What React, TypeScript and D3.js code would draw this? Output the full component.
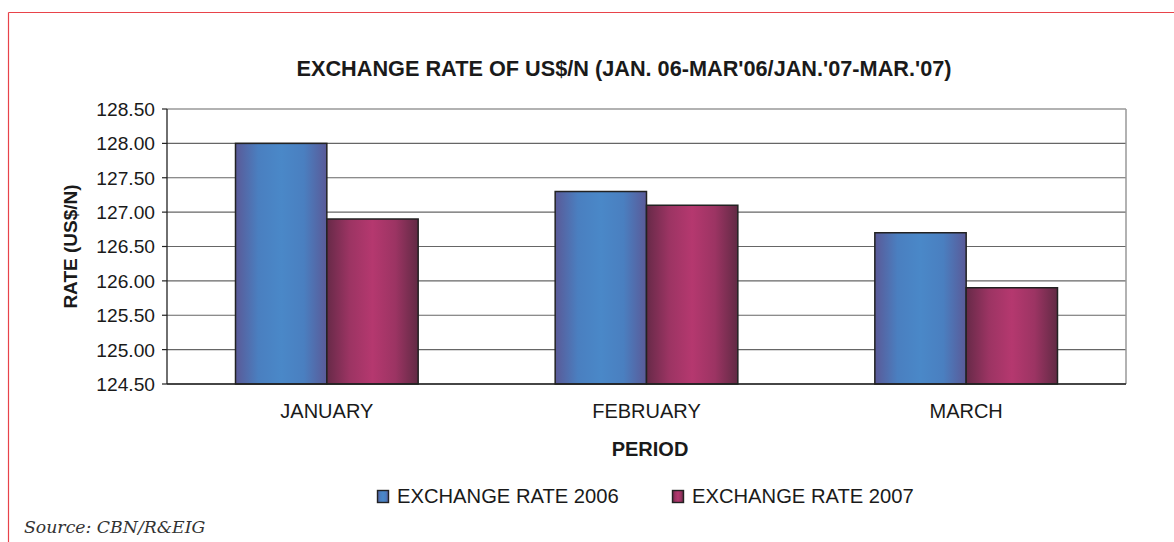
import React from 'react';
import * as d3 from 'd3';

const periods = ['JANUARY', 'FEBRUARY', 'MARCH'];
const series = ['EXCHANGE RATE 2006', 'EXCHANGE RATE 2007'];
const rate2006 = [128.0, 127.3, 126.7];
const rate2007 = [126.9, 127.1, 125.9];
const yTicks = [124.5, 125.0, 125.5, 126.0, 126.5, 127.0, 127.5, 128.0, 128.5];

const W = 1174;
const H = 542;
const margin = { top: 109, right: 48, bottom: 158, left: 167 };
const font = '"Liberation Sans", Arial, sans-serif';

const App = () => {
  const innerW = W - margin.left - margin.right;
  const innerH = H - margin.top - margin.bottom;

  const x0 = d3.scaleBand().domain(periods).range([0, innerW]).paddingInner(1.5 / 3.5).paddingOuter(0.75 / 3.5);
  const x1 = d3.scaleBand().domain(series).range([0, x0.bandwidth()]);
  const y = d3.scaleLinear().domain([124.5, 128.5]).range([innerH, 0]);

  const values = [rate2006, rate2007];
  const gradIds = ['g2006', 'g2007'];
  const legendX = [377, 672];

  return (
    <svg width={W} height={H} style={{ position: 'absolute', left: 0, top: 0, background: '#fff' }}>
      <defs>
        <linearGradient id="g2006" x1="0" x2="1" y1="0" y2="0">
          <stop offset="0" stopColor="#5a5a98" />
          <stop offset="0.25" stopColor="#4a7fc0" />
          <stop offset="0.5" stopColor="#4a88c8" />
          <stop offset="0.75" stopColor="#4a7fc0" />
          <stop offset="1" stopColor="#5a5a98" />
        </linearGradient>
        <linearGradient id="g2007" x1="0" x2="1" y1="0" y2="0">
          <stop offset="0" stopColor="#672a48" />
          <stop offset="0.25" stopColor="#9c3463" />
          <stop offset="0.5" stopColor="#b5386f" />
          <stop offset="0.75" stopColor="#9c3463" />
          <stop offset="1" stopColor="#612a44" />
        </linearGradient>
      </defs>

      {/* page frame */}
      <line x1={8.5} x2={8.5} y1={12.5} y2={H} stroke="#e8434a" strokeWidth={1.2} />
      <line x1={8.5} x2={W} y1={12.5} y2={12.5} stroke="#e8434a" strokeWidth={1.2} />

      <text x={624} y={76} textAnchor="middle" fontFamily={font} fontWeight="bold" fontSize={21.7} fill="#1a1a1a">
        EXCHANGE RATE OF US$/N (JAN. 06-MAR'06/JAN.'07-MAR.'07)
      </text>

      <g transform={`translate(${margin.left},${margin.top})`}>
        {/* grid */}
        {yTicks.map(t => (
          <line key={t} x1={0} x2={innerW} y1={y(t)} y2={y(t)} stroke="#666" strokeWidth={1.2} />
        ))}
        <line x1={innerW} x2={innerW} y1={0} y2={innerH} stroke="#999" strokeWidth={1.5} />

        {/* bars */}
        {periods.map((p, i) => (
          <g key={p} transform={`translate(${x0(p)},0)`}>
            {series.map((s, j) => (
              <rect
                key={s}
                x={x1(s)}
                y={y(values[j][i])}
                width={x1.bandwidth()}
                height={innerH - y(values[j][i])}
                fill={`url(#${gradIds[j]})`}
                stroke="#222"
                strokeWidth={1.5}
              />
            ))}
          </g>
        ))}

        {/* y axis */}
        <line x1={0} x2={0} y1={0} y2={innerH} stroke="#222" strokeWidth={1.3} />
        {yTicks.map(t => (
          <g key={t}>
            <line x1={-5} x2={0} y1={y(t)} y2={y(t)} stroke="#222" strokeWidth={1.2} />
            <text x={-12} y={y(t)} dy="0.36em" textAnchor="end" fontFamily={font} fontSize={19.2} fill="#1a1a1a">
              {d3.format('.2f')(t)}
            </text>
          </g>
        ))}

        {/* x axis */}
        <line x1={0} x2={innerW} y1={innerH} y2={innerH} stroke="#222" strokeWidth={1.3} />
        {periods.map(p => (
          <text key={p} x={(x0(p) ?? 0) + x0.bandwidth() / 2} y={innerH + 34} textAnchor="middle" fontFamily={font} fontSize={20} fill="#1a1a1a">
            {p}
          </text>
        ))}
      </g>

      <text transform={`translate(77,${margin.top + innerH / 2}) rotate(-90)`} textAnchor="middle" fontFamily={font} fontWeight="bold" fontSize={19} fill="#1a1a1a">
        RATE (US$/N)
      </text>
      <text x={650} y={456} textAnchor="middle" fontFamily={font} fontWeight="bold" fontSize={20} fill="#1a1a1a">
        PERIOD
      </text>

      {/* legend */}
      {series.map((s, j) => (
        <g key={s} transform={`translate(${legendX[j]},489)`}>
          <rect x={0.5} y={1.5} width={11} height={12} fill={`url(#${gradIds[j]})`} stroke="#222" strokeWidth={1.4} />
          <text x={20} y={14} fontFamily={font} fontSize={20.2} fill="#1a1a1a">{s}</text>
        </g>
      ))}

      <text x={24} y={533} fontFamily='"DejaVu Serif", "Liberation Serif", serif' fontStyle="italic" fontSize={17.3} fill="#333">
        Source:  CBN/R&amp;EIG
      </text>
    </svg>
  );
};

export default App;
